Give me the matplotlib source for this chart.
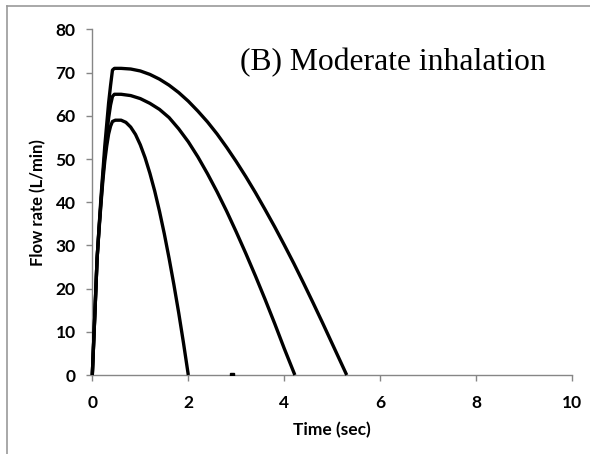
import matplotlib
matplotlib.use("Agg")
import matplotlib.pyplot as plt
from matplotlib.lines import Line2D

# Data (time in s, flow rate in L/min)
t_short = [0, 0.03, 0.06, 0.1, 0.14, 0.18, 0.22, 0.26, 0.3, 0.34, 0.38, 0.42, 0.48, 0.6,
           0.7, 0.8, 0.9, 1.0, 1.1, 1.2, 1.3, 1.4, 1.5, 1.6, 1.7, 1.8, 1.9, 2.0]
q_short = [0, 8, 16, 27, 33.5, 39.5, 45, 49.5, 53, 55.8, 57.6, 58.7, 59, 59,
           58.5, 57.4, 55.7, 53.3, 50.3, 46.7, 42.6, 37.9, 32.7, 27.0, 20.9, 14.4, 7.4, 0]

t_mid = [0, 0.03, 0.06, 0.1, 0.14, 0.18, 0.22, 0.26, 0.3, 0.34, 0.38, 0.42, 0.46, 0.6,
         0.8, 1.0, 1.2, 1.4, 1.6, 1.8, 2.0, 2.2, 2.4, 2.6, 2.8, 3.0, 3.2, 3.4,
         3.6, 3.8, 4.0, 4.22]
q_mid = [0, 8, 16, 27, 34, 40, 46, 51, 55.5, 59.5, 62.5, 64.5, 65, 65,
         64.7, 64.0, 62.9, 61.5, 59.6, 57.0, 54.0, 50.5, 46.6, 42.4, 37.9, 33.1, 28.1, 22.9,
         17.5, 11.9, 6.1, 0]

t_long = [0, 0.03, 0.06, 0.1, 0.14, 0.18, 0.22, 0.26, 0.3, 0.34, 0.38, 0.42, 0.46, 0.6,
          0.8, 1.0, 1.2, 1.4, 1.6, 1.8, 2.0, 2.2, 2.4, 2.6, 2.8, 3.0, 3.2, 3.4,
          3.6, 3.8, 4.0, 4.2, 4.4, 4.6, 4.8, 5.0, 5.2, 5.3]
q_long = [0, 8, 16, 27, 34, 41, 47, 53, 58, 63, 67, 70.6, 71, 71,
          70.85, 70.4, 69.6, 68.5, 67.1, 65.4, 63.4, 61.1, 58.6, 55.8, 52.7, 49.4, 45.9, 42.2,
          38.3, 34.3, 30.1, 25.8, 21.3, 16.7, 12.0, 7.2, 2.4, 0]

dot_t = [2.9]
dot_q = [0]

x_ticks = [0, 2, 4, 6, 8, 10]
y_ticks = [0, 10, 20, 30, 40, 50, 60, 70, 80]

W, H = 590, 454
fig = plt.figure(figsize=(W / 100, H / 100), dpi=100)
ax = fig.add_axes([92.3 / W, 1 - 375 / H, 480 / W, (375 - 29.5) / H])

for t, q in [(t_short, q_short), (t_mid, q_mid), (t_long, q_long)]:
    ax.plot(t, q, color="black", lw=2.4, solid_joinstyle="round", solid_capstyle="butt",
            clip_on=False, zorder=3)
ax.plot(dot_t, dot_q, "s", color="black", ms=2.2, zorder=3)

ax.set_xlim(0, 10)
ax.set_ylim(0, 80)
ax.set_xticks(x_ticks)
ax.set_yticks(y_ticks)
ax.set_xticklabels([str(v) for v in x_ticks])
ax.set_yticklabels([str(v) for v in y_ticks])

for s in ["top", "right"]:
    ax.spines[s].set_visible(False)
for s in ["left", "bottom"]:
    ax.spines[s].set_color("#868686")
    ax.spines[s].set_linewidth(1.0)

font = "Lato"
ax.tick_params(axis="both", colors="#868686", length=4.5, width=1.0, direction="out")
ax.tick_params(axis="y", pad=7.5)
ax.tick_params(axis="x", pad=10)
for lab in ax.get_xticklabels() + ax.get_yticklabels():
    lab.set_fontfamily(font)
    lab.set_fontweight("bold")
    lab.set_fontsize(12.5)
    lab.set_color("black")

ax.set_xlabel("Time (sec)", fontfamily=font, fontweight="bold", fontsize=12.5, labelpad=8)
ax.set_ylabel("Flow rate (L/min)", fontfamily=font, fontweight="bold", fontsize=12, labelpad=7)

ax.text(0.308, 0.883, "(B) Moderate inhalation", transform=ax.transAxes,
        fontfamily="Liberation Serif", fontsize=22.8, ha="left", va="baseline", color="black")

# Figure border (top and left visible)
fig.add_artist(Line2D([7 / W, 1.0], [1 - 6 / H, 1 - 6 / H], transform=fig.transFigure,
                      color="#999999", lw=1.2))
fig.add_artist(Line2D([7 / W, 7 / W], [0, 1 - 6 / H], transform=fig.transFigure,
                      color="#999999", lw=1.2))

fig.savefig("out.png", dpi=100)
